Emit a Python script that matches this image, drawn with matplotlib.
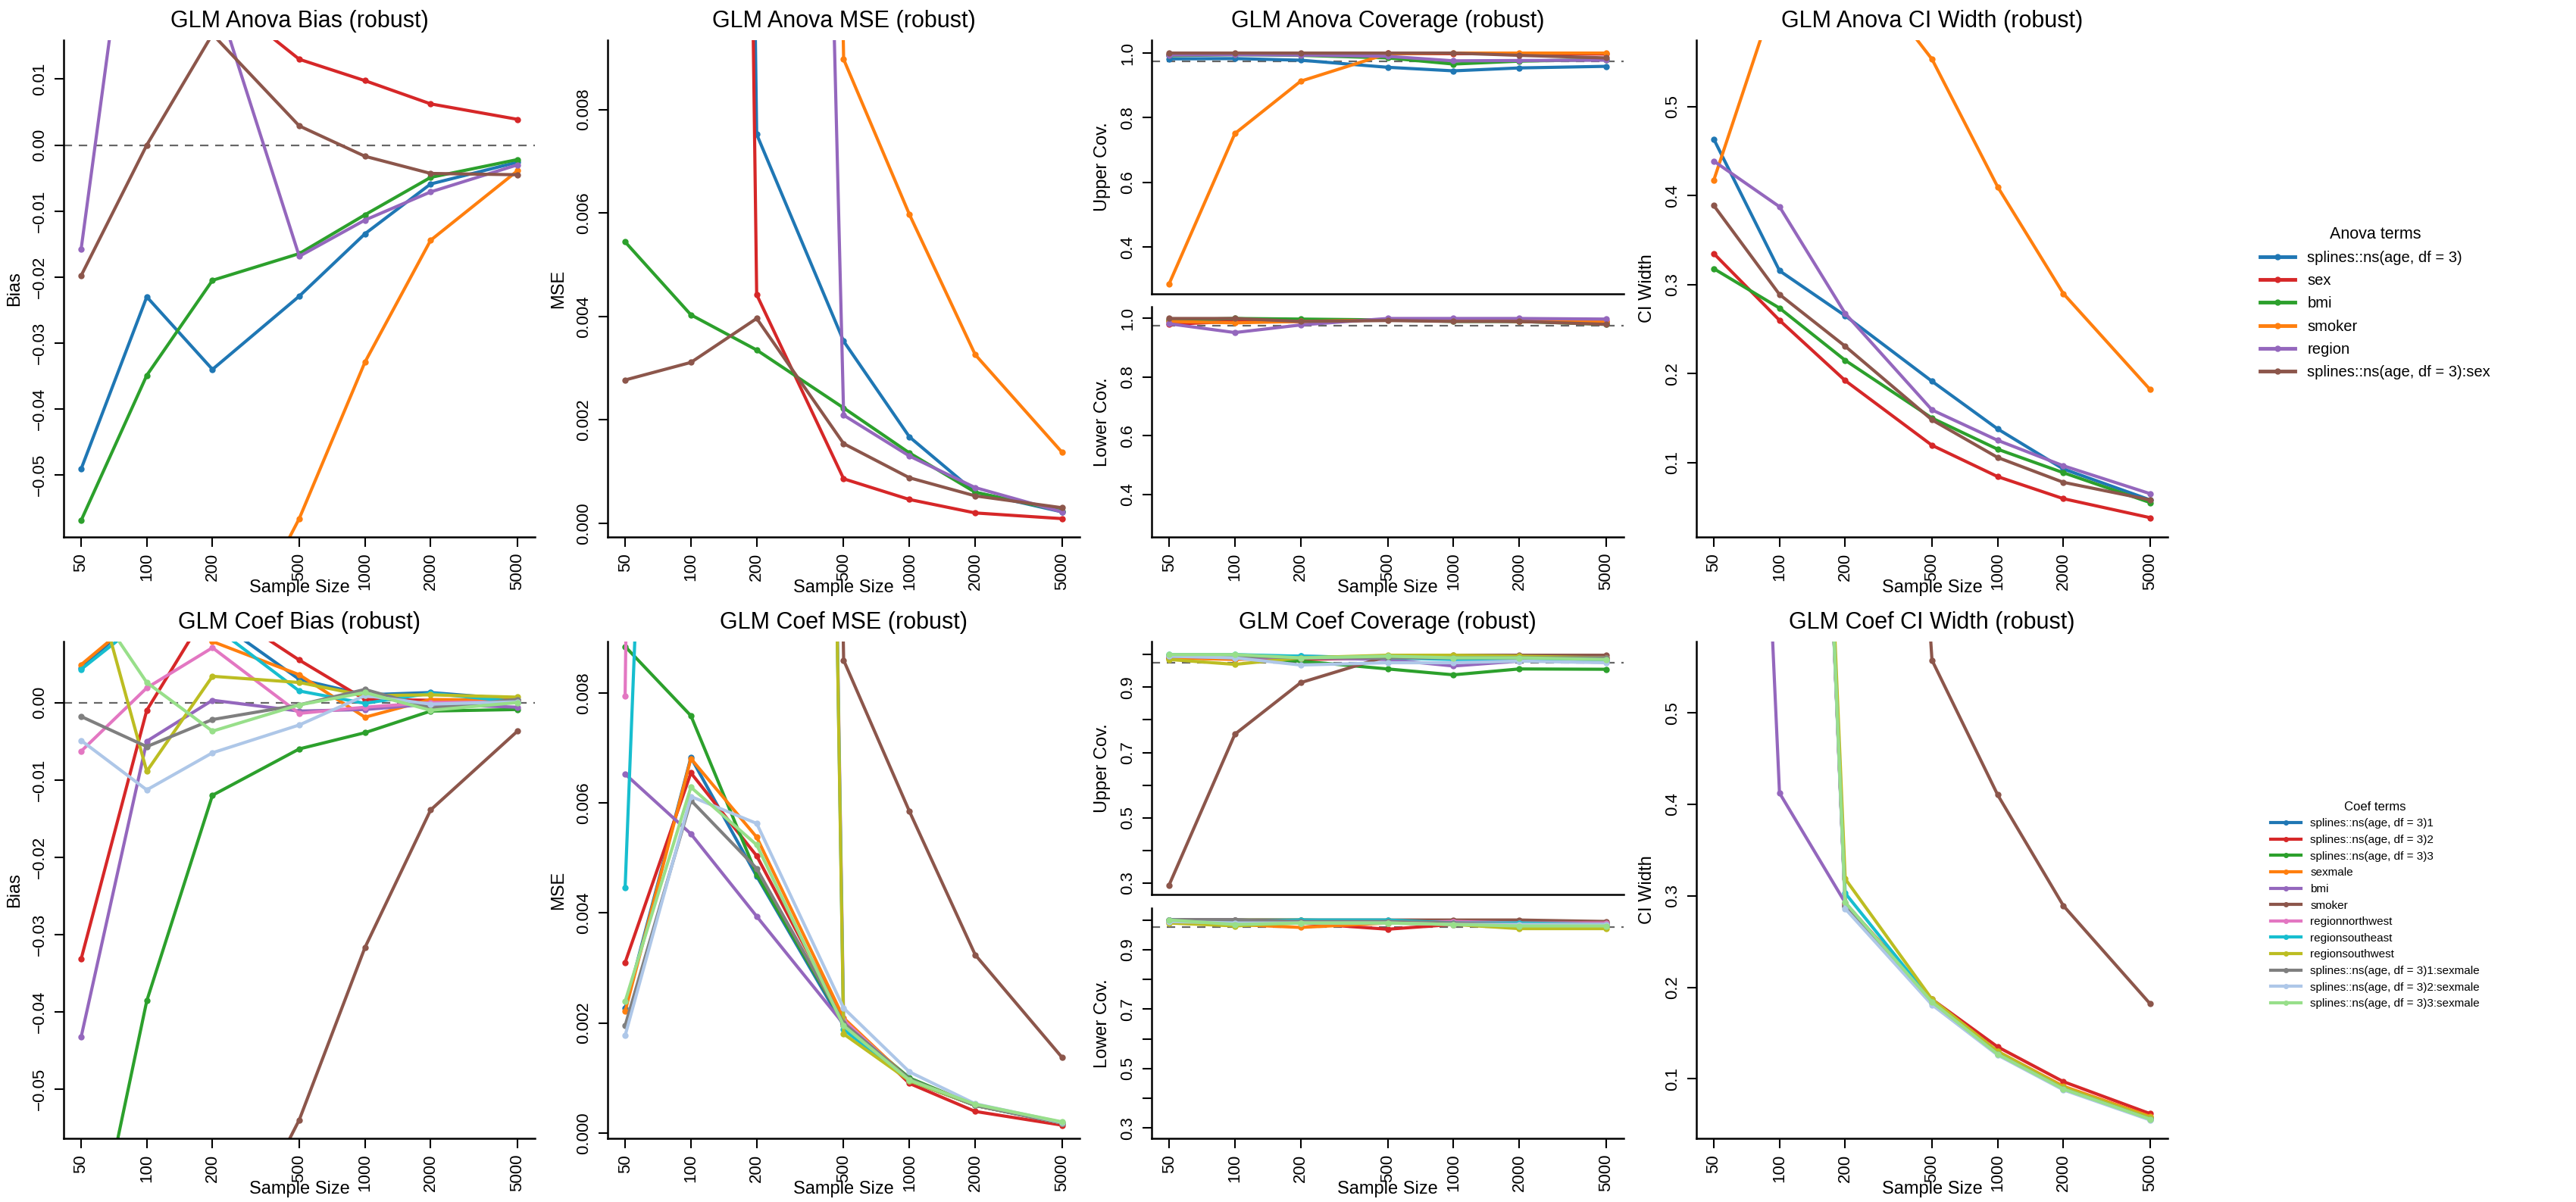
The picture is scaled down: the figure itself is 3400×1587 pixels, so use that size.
import matplotlib
matplotlib.use("Agg")
import matplotlib.pyplot as plt
from matplotlib.lines import Line2D
import numpy as np

plt.rcParams["font.family"] = ["Liberation Sans", "DejaVu Sans"]

W, H = 3400, 1587
sizes = [50, 100, 200, 500, 1000, 2000, 5000]
BIG = 0.1      # off-scale values (clipped at the top)
BIGW = 2.0

anova_terms = ["splines::ns(age, df = 3)", "sex", "bmi", "smoker", "region",
               "splines::ns(age, df = 3):sex"]
anova_colors = ["#1f77b4", "#d62728", "#2ca02c", "#ff7f0e", "#9467bd", "#8c564b"]

anova_bias = [
    [-0.0491, -0.0230, -0.0340, -0.0229, -0.01345, -0.0059, -0.0026],
    [0.045, 0.035, 0.0235, 0.0130, 0.00976, 0.00624, 0.0039],
    [-0.0569, -0.0349, -0.0205, -0.01645, -0.01057, -0.0049, -0.0022],
    [-0.12, -0.10, -0.082, -0.0566, -0.0329, -0.01443, -0.0039],
    [-0.0158, 0.058, 0.0243, -0.01686, -0.01137, -0.0071, -0.0030],
    [-0.0198, 0.0, 0.0168, 0.0029, -0.0017, -0.0043, -0.0045],
]
anova_mse = [
    [BIG, BIG, 0.00752, 0.00352, 0.00167, 0.00060, 0.00022],
    [BIG, BIG, 0.00442, 0.00086, 0.00046, 0.00020, 0.00009],
    [0.00544, 0.00403, 0.00335, 0.00223, 0.00136, 0.00060, 0.00024],
    [BIG, BIG, BIG, 0.00897, 0.00597, 0.00326, 0.00137],
    [BIG, BIG, 0.07, 0.00209, 0.00130, 0.00069, 0.00022],
    [0.00277, 0.00311, 0.00396, 0.00154, 0.00088, 0.00053, 0.00030],
]
anova_cov_up = [
    [0.982, 0.983, 0.978, 0.956, 0.945, 0.954, 0.959],
    [0.996, 0.998, 0.998, 0.999, 0.998, 0.998, 0.997],
    [0.992, 0.995, 0.993, 0.985, 0.966, 0.975, 0.980],
    [0.286, 0.751, 0.913, 0.998, 1.0, 1.0, 1.0],
    [0.994, 0.995, 0.994, 0.990, 0.976, 0.977, 0.978],
    [1.0, 1.0, 1.0, 1.0, 1.0, 0.993, 0.985],
]
anova_cov_lo = [
    [0.990, 0.995, 0.995, 0.995, 0.995, 0.990, 0.985],
    [0.980, 0.990, 0.990, 0.995, 0.993, 0.990, 0.990],
    [0.995, 1.0, 0.998, 0.995, 0.990, 0.990, 0.980],
    [0.990, 0.985, 0.990, 0.995, 0.997, 0.990, 0.988],
    [0.982, 0.952, 0.978, 1.0, 1.0, 1.0, 0.998],
    [1.0, 1.0, 0.990, 0.993, 0.990, 0.990, 0.980],
]
anova_ciw = [
    [0.4636, 0.3157, 0.2651, 0.1914, 0.1378, 0.0928, 0.058],
    [0.335, 0.260, 0.1922, 0.1194, 0.0842, 0.0594, 0.038],
    [0.318, 0.2737, 0.215, 0.150, 0.115, 0.0886, 0.055],
    [0.4177, 0.64, 0.68, 0.5536, 0.410, 0.290, 0.182],
    [0.439, 0.3877, 0.2677, 0.1592, 0.125, 0.0964, 0.065],
    [0.389, 0.289, 0.2308, 0.148, 0.1057, 0.0778, 0.058],
]

coef_terms = ["splines::ns(age, df = 3)1", "splines::ns(age, df = 3)2",
              "splines::ns(age, df = 3)3", "sexmale", "bmi", "smoker",
              "regionnorthwest", "regionsoutheast", "regionsouthwest",
              "splines::ns(age, df = 3)1:sexmale", "splines::ns(age, df = 3)2:sexmale",
              "splines::ns(age, df = 3)3:sexmale"]
coef_colors = ["#1f77b4", "#d62728", "#2ca02c", "#ff7f0e", "#9467bd", "#8c564b",
               "#e377c2", "#17becf", "#bcbd22", "#7f7f7f", "#aec7e8", "#98df8a"]

coef_bias = [
    [0.0045, 0.012, 0.011, 0.0030, 0.0010, 0.0013, 0.0004],
    [-0.0332, -0.0010, 0.0129, 0.0055, 0.0004, 0.0003, 0.0001],
    [-0.079, -0.0386, -0.0120, -0.0060, -0.0039, -0.0011, -0.0009],
    [0.0049, 0.012, 0.0079, 0.0036, -0.0019, 0.0004, 0.0003],
    [-0.0433, -0.0050, 0.0003, -0.0011, -0.0009, -0.0002, -0.0006],
    [-0.12, -0.10, -0.076, -0.0540, -0.0317, -0.0139, -0.0037],
    [-0.0063, 0.0019, 0.0071, -0.0014, -0.0006, 0.0, 0.0001],
    [0.0043, 0.011, 0.010, 0.0015, -0.0001, 0.0012, 0.0001],
    [0.022, -0.0089, 0.0034, 0.0026, 0.0009, 0.0010, 0.0007],
    [-0.0018, -0.0057, -0.0022, -0.0003, 0.0017, -0.0007, 0.0004],
    [-0.0049, -0.0113, -0.0065, -0.0029, 0.0009, -0.0002, 0.0001],
    [0.0152, 0.0026, -0.0037, -0.0003, 0.0013, -0.0010, 0.0],
]
coef_mse = [
    [0.00227, 0.00683, 0.00467, 0.00195, 0.00095, 0.00050, 0.00017],
    [0.00310, 0.00655, 0.00504, 0.00205, 0.00090, 0.00039, 0.00014],
    [0.00885, 0.00759, 0.00470, 0.00200, 0.00100, 0.00050, 0.00018],
    [0.00221, 0.00681, 0.00538, 0.00209, 0.00096, 0.00052, 0.00018],
    [0.00653, 0.00544, 0.00394, 0.00198, 0.00096, 0.00050, 0.00018],
    [BIG, BIG, BIG, 0.00860, 0.00585, 0.00324, 0.00137],
    [0.00795, BIG, BIG, 0.00205, 0.00095, 0.00050, 0.00018],
    [0.00446, 0.035, BIG, 0.00188, 0.00095, 0.00050, 0.00018],
    [BIG, BIG, BIG, 0.00180, 0.00095, 0.00050, 0.00018],
    [0.00195, 0.00605, 0.00481, 0.00200, 0.00098, 0.00050, 0.00018],
    [0.00177, 0.00612, 0.00563, 0.00227, 0.00111, 0.00053, 0.00019],
    [0.00239, 0.00629, 0.00524, 0.00195, 0.00096, 0.00052, 0.00020],
]
coef_cov_up = [
    [0.995, 0.995, 0.995, 0.990, 0.990, 0.985, 0.985],
    [0.990, 0.990, 0.985, 0.990, 0.990, 0.990, 0.990],
    [0.990, 0.990, 0.980, 0.956, 0.938, 0.956, 0.955],
    [0.990, 0.985, 0.990, 0.995, 0.995, 0.995, 0.990],
    [0.995, 0.990, 0.990, 0.985, 0.965, 0.980, 0.980],
    [0.294, 0.756, 0.914, 0.995, 0.998, 0.998, 0.998],
    [0.995, 0.995, 0.990, 0.990, 0.990, 0.990, 0.990],
    [1.0, 1.0, 0.995, 0.990, 0.985, 0.985, 0.985],
    [0.985, 0.970, 0.990, 0.998, 0.998, 0.995, 0.990],
    [0.995, 0.995, 0.990, 0.990, 0.990, 0.990, 0.990],
    [0.995, 0.990, 0.968, 0.975, 0.975, 0.980, 0.975],
    [1.0, 1.0, 0.990, 0.995, 0.990, 0.990, 0.985],
]
coef_cov_lo = [
    [1.0, 1.0, 0.995, 0.995, 0.990, 0.990, 0.990],
    [0.995, 0.990, 0.990, 0.969, 0.985, 0.990, 0.990],
    [1.0, 1.0, 1.0, 0.995, 0.995, 0.995, 0.990],
    [0.995, 0.985, 0.975, 0.990, 0.990, 0.985, 0.985],
    [1.0, 1.0, 0.995, 0.995, 0.995, 0.990, 0.990],
    [1.0, 1.0, 1.0, 1.0, 1.0, 1.0, 0.995],
    [1.0, 0.995, 0.995, 0.990, 0.995, 0.990, 0.990],
    [1.0, 0.995, 1.0, 1.0, 0.990, 0.990, 0.985],
    [0.990, 0.980, 0.990, 0.990, 0.985, 0.971, 0.971],
    [1.0, 1.0, 0.995, 0.995, 0.990, 0.985, 0.985],
    [0.995, 0.990, 0.990, 0.990, 0.985, 0.985, 0.985],
    [1.0, 0.985, 0.990, 0.990, 0.985, 0.980, 0.980],
]
coef_ciw = [
    [BIGW, BIGW, 0.290, 0.184, 0.128, 0.090, 0.057],
    [BIGW, BIGW, 0.292, 0.187, 0.135, 0.097, 0.062],
    [BIGW, BIGW, 0.290, 0.184, 0.128, 0.090, 0.057],
    [BIGW, BIGW, 0.292, 0.186, 0.130, 0.092, 0.059],
    [BIGW, 0.4125, 0.2926, 0.183, 0.127, 0.089, 0.056],
    [BIGW, BIGW, BIGW, 0.5576, 0.4104, 0.2893, 0.182],
    [BIGW, BIGW, 0.290, 0.184, 0.128, 0.090, 0.057],
    [BIGW, BIGW, 0.303, 0.185, 0.128, 0.090, 0.057],
    [BIGW, BIGW, 0.3187, 0.187, 0.130, 0.091, 0.058],
    [BIGW, BIGW, 0.288, 0.183, 0.127, 0.089, 0.056],
    [BIGW, BIGW, 0.286, 0.181, 0.126, 0.088, 0.055],
    [BIGW, BIGW, 0.293, 0.184, 0.127, 0.089, 0.056],
]

fig = plt.figure(figsize=(W / 100, H / 100), dpi=100)

TICK_FS = 16
LAB_FS = 17


def px_axes(x0, x1, y0, y1):
    return fig.add_axes([x0 / W, 1 - y1 / H, (x1 - x0) / W, (y1 - y0) / H])


def style(ax, ylim, yticks, ylabels=None, show_x=True):
    ax.set_xscale("log")
    ax.set_xlim(50 / 10 ** 0.08, 5000 * 10 ** 0.08)
    ax.set_ylim(*ylim)
    ax.minorticks_off()
    for s in ("top", "right"):
        ax.spines[s].set_visible(False)
    for s in ("left", "bottom"):
        ax.spines[s].set_linewidth(1.8)
    ax.set_yticks(yticks)
    if ylabels is not None:
        ax.set_yticklabels(ylabels)
    ax.tick_params(axis="y", labelrotation=90, labelsize=TICK_FS, length=9,
                   width=1.5, pad=6)
    for t in ax.get_yticklabels():
        t.set_va("center")
    if show_x:
        ax.set_xticks(sizes)
        ax.set_xticklabels([str(s) for s in sizes], rotation=90)
        ax.tick_params(axis="x", labelsize=TICK_FS, length=9, width=1.5, pad=6)
    else:
        ax.set_xticks([])


def draw(ax, data, colors):
    for vals, c in zip(data, colors):
        ax.plot(sizes, vals, color=c, lw=3, marker="o", ms=5, clip_on=True)


def hline(ax, y):
    ax.axhline(y, color="#666666", lw=1.6, ls=(0, (5, 4)), zorder=0)


def titles(x0, x1, ytop, title, ylab_list):
    fig.text((x0 + x1) / 2 / W, 1 - (ytop - 25) / H, title, ha="center",
             va="center", fontsize=22)
    fig.text((x0 + x1) / 2 / W, 1 - (ytop + 723) / H, "Sample Size",
             ha="center", va="center", fontsize=LAB_FS)
    for lab, yc in ylab_list:
        fig.text((x0 - 65) / W, 1 - yc / H, lab, ha="center", va="center",
                 rotation=90, fontsize=LAB_FS)


panels_x = [(84, 706), (802, 1425), (1520, 2143), (2239, 2861)]
rows = [
    dict(top=53, bot=709, cut=(388, 405), label="Anova", colors=anova_colors,
         bias=anova_bias, mse=anova_mse, up=anova_cov_up, lo=anova_cov_lo, ciw=anova_ciw,
         bias_lim=(-0.0594, 0.0159), bias_ticks=[-0.05, -0.04, -0.03, -0.02, -0.01, 0.0, 0.01],
         mse_lim=(-0.000265, 0.00934), mse_ticks=[0, 0.002, 0.004, 0.006, 0.008],
         cov_lim=(0.255, 1.04), cov_ticks=[0.4, 0.6, 0.8, 1.0], cov_labels=None,
         ciw_lim=(0.0163, 0.575), ciw_ticks=[0.1, 0.2, 0.3, 0.4, 0.5]),
    dict(top=847, bot=1503, cut=(1181, 1199), label="Coef", colors=coef_colors,
         bias=coef_bias, mse=coef_mse, up=coef_cov_up, lo=coef_cov_lo, ciw=coef_ciw,
         bias_lim=(-0.0564, 0.0079), bias_ticks=[-0.05, -0.04, -0.03, -0.02, -0.01, 0.0],
         mse_lim=(-0.0001, 0.00894), mse_ticks=[0, 0.002, 0.004, 0.006, 0.008],
         cov_lim=(0.265, 1.04), cov_ticks=[0.3, 0.4, 0.5, 0.6, 0.7, 0.8, 0.9, 1.0],
         cov_labels=["0.3", "", "0.5", "", "0.7", "", "0.9", ""],
         ciw_lim=(0.035, 0.578), ciw_ticks=[0.1, 0.2, 0.3, 0.4, 0.5]),
]

for r in rows:
    top, bot = r["top"], r["bot"]
    name = r["label"]
    # Bias
    x0, x1 = panels_x[0]
    ax = px_axes(x0, x1, top, bot)
    hline(ax, 0.0)
    draw(ax, r["bias"], r["colors"])
    style(ax, r["bias_lim"], r["bias_ticks"],
          ["%.2f" % v if v >= 0 else "\u2212%.2f" % -v for v in r["bias_ticks"]])
    titles(x0, x1, top, f"GLM {name} Bias (robust)", [("Bias", (top + bot) / 2)])
    # MSE
    x0, x1 = panels_x[1]
    ax = px_axes(x0, x1, top, bot)
    draw(ax, r["mse"], r["colors"])
    style(ax, r["mse_lim"], r["mse_ticks"], ["%.3f" % v for v in r["mse_ticks"]])
    titles(x0, x1, top, f"GLM {name} MSE (robust)", [("MSE", (top + bot) / 2)])
    # Coverage
    x0, x1 = panels_x[2]
    c1, c2 = r["cut"]
    axu = px_axes(x0, x1, top, c1)
    hline(axu, 0.975)
    draw(axu, r["up"], r["colors"])
    labs = r["cov_labels"] or ["%.1f" % v for v in r["cov_ticks"]]
    style(axu, r["cov_lim"], r["cov_ticks"], labs, show_x=False)
    axl = px_axes(x0, x1, c2, bot)
    hline(axl, 0.975)
    draw(axl, r["lo"], r["colors"])
    style(axl, r["cov_lim"], r["cov_ticks"], labs)
    titles(x0, x1, top, f"GLM {name} Coverage (robust)",
           [("Upper Cov.", (top + c1) / 2), ("Lower Cov.", (c2 + bot) / 2)])
    # CI width
    x0, x1 = panels_x[3]
    ax = px_axes(x0, x1, top, bot)
    draw(ax, r["ciw"], r["colors"])
    style(ax, r["ciw_lim"], r["ciw_ticks"], ["%.1f" % v for v in r["ciw_ticks"]])
    titles(x0, x1, top, f"GLM {name} CI Width (robust)", [("CI Width", (top + bot) / 2)])

# legends
h1 = [Line2D([], [], color=c, lw=3.5, marker="o", ms=5) for c in anova_colors]
leg1 = fig.legend(h1, anova_terms, loc="center", bbox_to_anchor=(3135 / W, 1 - 400 / H),
                  frameon=False, fontsize=14.5, title="Anova terms", title_fontsize=15.5,
                  labelspacing=0.55, handlelength=2.3, handletextpad=0.8)
h2 = [Line2D([], [], color=c, lw=3, marker="o", ms=4) for c in coef_colors]
leg2 = fig.legend(h2, coef_terms, loc="center", bbox_to_anchor=(3135 / W, 1 - 1195 / H),
                  frameon=False, fontsize=11, title="Coef terms", title_fontsize=12,
                  labelspacing=0.5, handlelength=2.6, handletextpad=0.8)

fig.savefig("out.png", dpi=100)
